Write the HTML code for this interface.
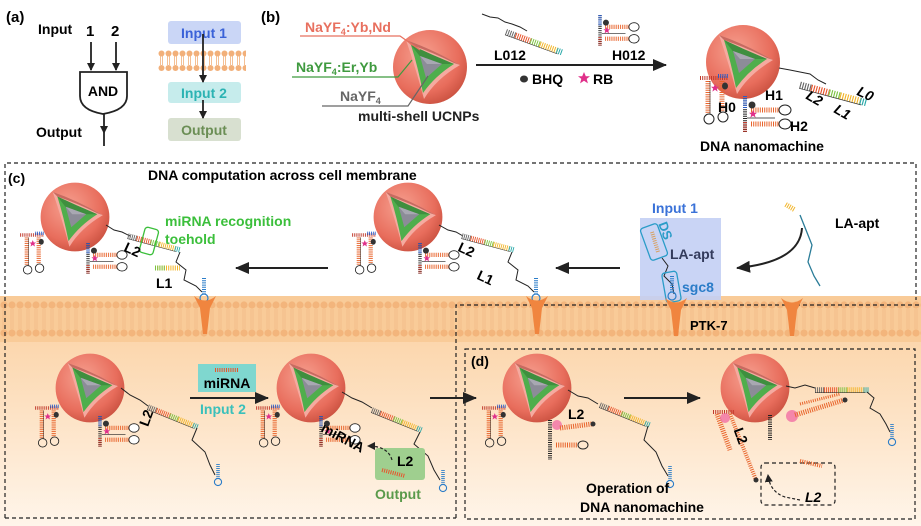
<!DOCTYPE html>
<html><head><meta charset="utf-8"><style>
body{margin:0;background:#fff}
svg{display:block;font-family:"Liberation Sans",sans-serif}
.b{font-weight:bold}
</style></head><body>
<svg width="921" height="526" viewBox="0 0 921 526" xmlns="http://www.w3.org/2000/svg">
<defs>
<radialGradient id="sph" cx="0.4" cy="0.35" r="0.7">
<stop offset="0" stop-color="#f6a090"/><stop offset="0.7" stop-color="#e86d5c"/><stop offset="1" stop-color="#c9503f"/></radialGradient>
<linearGradient id="bg" x1="0" y1="0" x2="0" y2="1">
<stop offset="0" stop-color="#fbcf9e"/><stop offset="1" stop-color="#fff5ea"/></linearGradient>
<pattern id="lip" x="0" y="296" width="8" height="46" patternUnits="userSpaceOnUse">
<rect width="8" height="46" fill="#f9cb98"/>
<circle cx="4" cy="9" r="3.6" fill="#f3b57c"/><circle cx="4" cy="37" r="3.6" fill="#f3b57c"/>
<line x1="3" y1="13" x2="3" y2="33" stroke="#f3bb86" stroke-width="0.8"/><line x1="5" y1="13" x2="5" y2="33" stroke="#f3bb86" stroke-width="0.8"/>
</pattern>
<pattern id="lip2" x="158" y="50" width="7" height="22" patternUnits="userSpaceOnUse">
<circle cx="3.5" cy="3.5" r="3" fill="#f2b07a"/><circle cx="3.5" cy="18" r="3" fill="#f2b07a"/>
<line x1="2.5" y1="6" x2="2.5" y2="15" stroke="#f2b07a" stroke-width="0.8"/><line x1="4.5" y1="6" x2="4.5" y2="15" stroke="#f2b07a" stroke-width="0.8"/>
</pattern>
<g id="np">
<circle r="37" fill="url(#sph)"/>
<path d="M-24,-27 Q2,-18 30,-2 Q6,12 -6,32 Q-14,2 -24,-27Z" fill="#f5aaa0"/>
<path d="M-24,-27 Q2,-18 30,-2 L24,-4 Q2,-15 -19,-22Z" fill="#c86a60"/>
<path d="M-19,-22 Q2,-12 24,-3 Q5,9 -7,26 Q-12,0 -19,-22Z" fill="#4fae4c"/>
<path d="M-19,-22 Q2,-12 24,-3 L-4,-3Z" fill="#3f8f3f"/>
<path d="M-10,-11 L12,-3 L-4,11Z" fill="#8c8c98"/>
<path d="M-10,-11 L12,-3 L-3,-3Z" fill="#a8a8b2"/>
</g>
<g id="lad">
<line x1="0" y1="0" x2="10" y2="0" stroke="#666" stroke-width="6" stroke-dasharray="1 1.2"/>
<line x1="10" y1="0" x2="26" y2="0" stroke="#e8542c" stroke-width="6" stroke-dasharray="1 1.2"/>
<line x1="26" y1="0" x2="36" y2="0" stroke="#7cc242" stroke-width="6" stroke-dasharray="1 1.2"/>
<line x1="36" y1="0" x2="54" y2="0" stroke="#f2b52a" stroke-width="6" stroke-dasharray="1 1.2"/>
<line x1="54" y1="0" x2="60" y2="0" stroke="#2aa9a9" stroke-width="6" stroke-dasharray="1 1.2"/>
<line x1="0" y1="3" x2="56" y2="3" stroke="#333" stroke-width="0.6"/>
</g>
<g id="star"><polygon points="0,-4 1.2,-1.2 4,-1.2 1.8,0.6 2.6,3.6 0,1.8 -2.6,3.6 -1.8,0.6 -4,-1.2 -1.2,-1.2" fill="#e0308a"/></g>
<g id="hpL">
<line x1="0" y1="0" x2="28" y2="0" stroke="#c0392b" stroke-width="4" stroke-dasharray="1 1.2"/>
<line x1="18" y1="-2" x2="28" y2="-2" stroke="#2a5cc8" stroke-width="4" stroke-dasharray="1 1.2"/>
<line x1="8" y1="3" x2="8" y2="36" stroke="#e8642c" stroke-width="5" stroke-dasharray="1 1.2"/>
<line x1="22" y1="3" x2="22" y2="34" stroke="#e8642c" stroke-width="5" stroke-dasharray="1 1.2"/>
<line x1="10" y1="3" x2="10" y2="36" stroke="#222" stroke-width="0.6"/>
<circle cx="9" cy="41" r="5" fill="none" stroke="#222" stroke-width="1"/>
<circle cx="23" cy="39" r="5" fill="none" stroke="#222" stroke-width="1"/>
<ellipse cx="25" cy="8" rx="3" ry="3.5" fill="#333"/>
<use href="#star" x="15" y="10"/>
</g>
<g id="hpB">
<line x1="0" y1="0" x2="0" y2="36" stroke="#222" stroke-width="4" stroke-dasharray="1 1.2"/>
<line x1="0" y1="0" x2="0" y2="12" stroke="#2a5cc8" stroke-width="4" stroke-dasharray="1 1.2"/>
<line x1="0" y1="26" x2="0" y2="36" stroke="#c0392b" stroke-width="4" stroke-dasharray="1 1.2"/>
<line x1="6" y1="14" x2="34" y2="14" stroke="#e8642c" stroke-width="5" stroke-dasharray="1 1.2"/>
<line x1="6" y1="28" x2="34" y2="28" stroke="#e8642c" stroke-width="5" stroke-dasharray="1 1.2"/>
<line x1="2" y1="22" x2="30" y2="22" stroke="#222" stroke-width="0.7"/>
<ellipse cx="40" cy="14" rx="6" ry="5" fill="#fff" stroke="#222"/>
<ellipse cx="40" cy="28" rx="6" ry="5" fill="#fff" stroke="#222"/>
<circle cx="7" cy="9" r="3.5" fill="#333"/>
<use href="#star" x="8" y="18"/>
</g>
<g id="apt">
<line x1="0" y1="0" x2="0" y2="16" stroke="#2a7cc8" stroke-width="4" stroke-dasharray="1 1.2"/>
<circle cx="0" cy="20" r="4" fill="none" stroke="#2a7cc8" stroke-width="1.2"/>
</g>
<g id="rec"><path d="M-11,0 Q0,9 11,0 L5,12 L2,38 L-2,38 L-5,12Z" fill="#f0853f"/></g>
<marker id="ah" markerWidth="8" markerHeight="8" refX="7" refY="4" orient="auto" markerUnits="userSpaceOnUse"><path d="M0,0 L8,4 L0,8Z" fill="#222"/></marker>
<marker id="ahs" markerWidth="14" markerHeight="12" refX="13" refY="6" orient="auto" markerUnits="userSpaceOnUse"><path d="M0,0 L14,6 L0,12Z" fill="#222"/></marker>
</defs>

<rect x="0" y="296" width="921" height="230" fill="url(#bg)"/>
<rect x="0" y="296" width="921" height="46" fill="url(#lip)"/>

<!-- (a) -->
<text x="6" y="22" class="b" font-size="15">(a)</text>
<text x="38" y="34" class="b" font-size="14">Input</text>
<text x="86" y="36" class="b" font-size="15">1</text>
<text x="111" y="36" class="b" font-size="15">2</text>
<line x1="91" y1="42" x2="91" y2="70" stroke="#222" stroke-width="1.8" marker-end="url(#ah)"/>
<line x1="116" y1="42" x2="116" y2="70" stroke="#222" stroke-width="1.8" marker-end="url(#ah)"/>
<path d="M80,72 L127,72 L127,96 Q127,110 103,114 Q80,110 80,96Z" fill="#fff" stroke="#222" stroke-width="1.8"/>
<text x="103" y="96" class="b" font-size="14" text-anchor="middle">AND</text>
<line x1="104" y1="114" x2="104" y2="146" stroke="#222" stroke-width="1.8"/>
<path d="M100,126 L108,126 L104,134Z" fill="#222"/>
<text x="36" y="137" class="b" font-size="14">Output</text>
<rect x="168" y="21" width="73" height="23" rx="3" fill="#cad6f6"/>
<text x="204" y="38" font-size="14" fill="#3a62d8" text-anchor="middle" class="b">Input 1</text>
<rect x="158" y="50" width="88" height="22" fill="url(#lip2)"/>
<rect x="168" y="82" width="73" height="21" rx="3" fill="#c6ecec"/>
<text x="204" y="98" font-size="14" fill="#2bb3b3" text-anchor="middle" class="b">Input 2</text>
<rect x="168" y="118" width="73" height="23" rx="3" fill="#d8e0d0"/>
<text x="204" y="135" font-size="14" fill="#6b8e55" text-anchor="middle" class="b">Output</text>
<line x1="203" y1="34" x2="203" y2="82" stroke="#222" stroke-width="1.8" marker-end="url(#ah)"/>
<line x1="203" y1="100" x2="203" y2="118" stroke="#222" stroke-width="1.8" marker-end="url(#ah)"/>

<!-- (b) -->
<text x="261" y="22" class="b" font-size="15">(b)</text>
<use href="#np" transform="translate(430,67)"/>
<text x="305" y="32" font-size="14" fill="#e8705f" class="b">NaYF<tspan font-size="9" dy="3">4</tspan><tspan dy="-3">:Yb,Nd</tspan></text>
<polyline points="300,36 400,36 420,50" fill="none" stroke="#e8705f" stroke-width="1.2"/>
<text x="296" y="72" font-size="14" fill="#3f9a3f" class="b">NaYF<tspan font-size="9" dy="3">4</tspan><tspan dy="-3">:Er,Yb</tspan></text>
<polyline points="292,77 398,77 412,60" fill="none" stroke="#3f9a3f" stroke-width="1.2"/>
<text x="340" y="101" font-size="14" fill="#666" class="b">NaYF<tspan font-size="9" dy="3">4</tspan></text>
<polyline points="322,106 408,106 428,76" fill="none" stroke="#666" stroke-width="1.2"/>
<text x="358" y="121" font-size="14" fill="#222" class="b">multi-shell UCNPs</text>

<line x1="476" y1="65" x2="666" y2="65" stroke="#222" stroke-width="2" marker-end="url(#ahs)"/>
<polyline points="482,14 490,17 498,18 505,22 512,24 520,27 527,31" fill="none" stroke="#222" stroke-width="1"/>
<use href="#lad" transform="translate(506,32) rotate(20)"/>
<text x="494" y="60" class="b" font-size="14">L012</text>
<use href="#hpB" transform="translate(600,15) scale(0.85)"/>
<text x="612" y="60" class="b" font-size="14">H012</text>
<ellipse cx="524" cy="79" rx="4" ry="3.5" fill="#333"/>
<text x="532" y="84" class="b" font-size="14">BHQ</text>
<use href="#star" transform="translate(584,78) scale(1.5)"/>
<text x="593" y="84" class="b" font-size="14">RB</text>

<use href="#np" transform="translate(743,62)"/>
<polyline points="779,68 790,70 800,72 810,74 818,80 826,84" fill="none" stroke="#222" stroke-width="1"/>
<use href="#lad" transform="translate(800,85) rotate(15) scale(1.15)"/>
<use href="#hpL" transform="translate(700,78)"/>
<use href="#hpB" transform="translate(745,96)"/>
<text x="718" y="112" class="b" font-size="14">H0</text>
<text x="765" y="100" class="b" font-size="14">H1</text>
<text x="790" y="131" class="b" font-size="14">H2</text>
<text x="805" y="102" class="b" font-size="14" font-style="italic" transform="rotate(30 812 100)">L2</text>
<text x="834" y="116" class="b" font-size="14" font-style="italic" transform="rotate(30 841 112)">L1</text>
<text x="857" y="98" class="b" font-size="14" font-style="italic" transform="rotate(25 864 94)">L0</text>
<text x="700" y="151" class="b" font-size="14">DNA nanomachine</text>

<g fill="none" stroke="#222" stroke-width="1.2" stroke-dasharray="4 3">
<polyline points="5,518 5,163 916,163 916,300"/>
<polyline points="456,518 456,305 920,305"/>
<line x1="5" y1="518" x2="456" y2="518"/>
<rect x="465" y="349" width="450" height="170"/>
<rect x="761" y="463" width="74" height="42" rx="4"/>
</g>

<!-- (c) -->
<text x="8" y="183" class="b" font-size="14">(c)</text>
<text x="148" y="180" class="b" font-size="14">DNA computation across cell membrane</text>

<use href="#np" transform="translate(75,217) scale(0.93)"/>
<use href="#hpL" transform="translate(20,235) scale(0.85)"/>
<use href="#hpB" transform="translate(88,243) scale(0.85)"/>
<polyline points="106,225 114,230 122,232 130,236" fill="none" stroke="#222" stroke-width="1"/>
<use href="#lad" transform="translate(128,236) rotate(15) scale(0.9)"/>
<rect x="142" y="228" width="14" height="26" rx="3" fill="none" stroke="#3bbf3b" stroke-width="1.3" transform="rotate(15 149 241)"/>
<polyline points="180,252 176,262 186,270 184,280 196,286 202,292" fill="none" stroke="#222" stroke-width="1"/>
<use href="#apt" transform="translate(204,278)"/>
<use href="#rec" transform="translate(205,296)"/>
<text x="165" y="226" font-size="14" fill="#3bbf3b" class="b">miRNA recognition</text>
<text x="165" y="244" font-size="14" fill="#3bbf3b" class="b">toehold</text>
<text x="124" y="254" class="b" font-size="14" transform="rotate(25 131 250)">L2</text>
<line x1="155" y1="268" x2="180" y2="268" stroke="#f2b52a" stroke-width="5" stroke-dasharray="1 1.2"/>
<line x1="155" y1="268" x2="165" y2="268" stroke="#7cc242" stroke-width="5" stroke-dasharray="1 1.2"/>
<text x="156" y="288" class="b" font-size="14">L1</text>
<line x1="328" y1="268" x2="236" y2="268" stroke="#222" stroke-width="2" marker-end="url(#ahs)"/>

<use href="#np" transform="translate(408,217) scale(0.93)"/>
<use href="#hpL" transform="translate(352,235) scale(0.85)"/>
<use href="#hpB" transform="translate(420,243) scale(0.85)"/>
<polyline points="439,225 448,230 456,232 463,236" fill="none" stroke="#222" stroke-width="1"/>
<use href="#lad" transform="translate(462,236) rotate(15) scale(0.9)"/>
<polyline points="512,252 508,262 518,270 516,280 528,286 534,292" fill="none" stroke="#222" stroke-width="1"/>
<use href="#apt" transform="translate(536,278)"/>
<use href="#rec" transform="translate(537,296)"/>
<text x="458" y="254" class="b" font-size="14" transform="rotate(25 465 250)">L2</text>
<text x="477" y="282" class="b" font-size="14" transform="rotate(25 484 278)">L1</text>
<line x1="620" y1="268" x2="556" y2="268" stroke="#222" stroke-width="2" marker-end="url(#ahs)"/>

<rect x="640" y="218" width="81" height="82" fill="#c3cff4" opacity="0.9"/>
<text x="652" y="213" font-size="14" fill="#3a72d8" class="b">Input 1</text>
<rect x="645" y="225" width="18" height="34" rx="3" fill="none" stroke="#2a9cc8" stroke-width="1.3" transform="rotate(-20 654 242)"/>
<line x1="652" y1="232" x2="658" y2="252" stroke="#d8a060" stroke-width="4" stroke-dasharray="1 1.2"/>
<text x="658" y="232" font-size="13" fill="#2a9cc8" class="b" transform="rotate(70 664 228)">DS</text>
<text x="670" y="259" font-size="14" fill="#333b5c" class="b">LA-apt</text>
<polyline points="662,258 668,266 664,276 672,284 674,294" fill="none" stroke="#222" stroke-width="1"/>
<rect x="664" y="272" width="15" height="30" rx="3" fill="none" stroke="#2a9cc8" stroke-width="1.3" transform="rotate(-10 671 287)"/>
<use href="#apt" transform="translate(672,276)"/>
<text x="682" y="292" font-size="14" fill="#2a7cc8" class="b">sgc8</text>
<use href="#rec" transform="translate(676,298)"/>
<use href="#rec" transform="translate(792,298)"/>
<text x="690" y="330" class="b" font-size="13">PTK-7</text>

<line x1="785" y1="207" x2="795" y2="207" stroke="#f2b52a" stroke-width="5" stroke-dasharray="1 1.2" transform="rotate(30 790 207)"/>
<polyline points="800,215 806,230 812,245 808,262 814,276 820,286" fill="none" stroke="#2a7c98" stroke-width="1.3"/>
<text x="835" y="228" class="b" font-size="14">LA-apt</text>
<path d="M802,228 Q800,262 737,268" fill="none" stroke="#222" stroke-width="2" marker-end="url(#ahs)"/>

<!-- bottom row -->
<use href="#np" transform="translate(90,388) scale(0.93)"/>
<use href="#hpL" transform="translate(35,408) scale(0.85)"/>
<use href="#hpB" transform="translate(100,416) scale(0.85)"/>
<polyline points="121,388 130,395 140,400 148,406" fill="none" stroke="#222" stroke-width="1"/>
<use href="#lad" transform="translate(148,407) rotate(22) scale(0.9)"/>
<polyline points="197,428 192,440 205,452 210,465 215,475" fill="none" stroke="#222" stroke-width="1"/>
<use href="#apt" transform="translate(218,464) scale(0.9)"/>
<text x="138" y="423" class="b" font-size="14" transform="rotate(-70 146 418)">L2</text>

<rect x="198" y="364" width="58" height="28" fill="#7fd7cf"/>
<line x1="215" y1="370" x2="238" y2="370" stroke="#e8542c" stroke-width="4" stroke-dasharray="1 1.2"/>
<text x="227" y="388" text-anchor="middle" class="b" font-size="14">miRNA</text>
<line x1="190" y1="398" x2="268" y2="398" stroke="#222" stroke-width="2" marker-end="url(#ahs)"/>
<text x="200" y="414" font-size="14" fill="#3ac0bb" class="b">Input 2</text>

<use href="#np" transform="translate(311,388) scale(0.93)"/>
<use href="#hpL" transform="translate(256,408) scale(0.85)"/>
<use href="#hpB" transform="translate(321,416) scale(0.85)"/>
<polyline points="342,392 352,398 362,402 372,408" fill="none" stroke="#222" stroke-width="1"/>
<use href="#lad" transform="translate(372,410) rotate(22) scale(0.9)"/>
<polyline points="420,432 414,444 428,456 434,470 440,480" fill="none" stroke="#222" stroke-width="1"/>
<use href="#apt" transform="translate(443,470) scale(0.9)"/>
<text x="320" y="441" class="b" font-size="14" transform="rotate(28 340 436)">miRNA</text>
<rect x="375" y="448" width="50" height="32" rx="3" fill="#9fcf8f"/>
<text x="397" y="466" class="b" font-size="14">L2</text>
<line x1="382" y1="470" x2="405" y2="476" stroke="#e8542c" stroke-width="4" stroke-dasharray="1 1.2"/>
<text x="375" y="499" font-size="14" fill="#5a9a4a" class="b">Output</text>
<path d="M392,460 Q388,446 368,446" fill="none" stroke="#222" stroke-width="1.2" stroke-dasharray="3 2" marker-end="url(#ah)"/>
<line x1="430" y1="398" x2="476" y2="398" stroke="#222" stroke-width="2" marker-end="url(#ahs)"/>

<text x="471" y="366" class="b" font-size="14">(d)</text>
<use href="#np" transform="translate(537,388) scale(0.93)"/>
<use href="#hpL" transform="translate(482,408) scale(0.85)"/>
<line x1="550" y1="420" x2="550" y2="460" stroke="#222" stroke-width="4" stroke-dasharray="1 1.2"/>
<circle cx="557" cy="425" r="5" fill="#f060a0" opacity="0.7"/>
<line x1="560" y1="428" x2="592" y2="424" stroke="#e8642c" stroke-width="5" stroke-dasharray="1 1.2"/>
<circle cx="593" cy="424" r="2.5" fill="#333"/>
<line x1="556" y1="445" x2="578" y2="445" stroke="#e8642c" stroke-width="5" stroke-dasharray="1 1.2"/>
<ellipse cx="583" cy="445" rx="5" ry="4" fill="none" stroke="#222"/>
<text x="568" y="419" class="b" font-size="14">L2</text>
<polyline points="568,390 578,396 588,398 598,404" fill="none" stroke="#222" stroke-width="1"/>
<use href="#lad" transform="translate(600,405) rotate(22) scale(0.9)"/>
<polyline points="648,426 644,440 656,452 662,466 668,476" fill="none" stroke="#222" stroke-width="1"/>
<use href="#apt" transform="translate(670,466) scale(0.9)"/>
<text x="586" y="493" class="b" font-size="14">Operation of</text>
<text x="580" y="512" class="b" font-size="14">DNA nanomachine</text>
<line x1="624" y1="398" x2="700" y2="398" stroke="#222" stroke-width="2" marker-end="url(#ahs)"/>

<use href="#np" transform="translate(755,388) scale(0.93)"/>
<polyline points="786,386 795,388 805,385 815,388" fill="none" stroke="#222" stroke-width="1"/>
<use href="#lad" transform="translate(815,390) scale(0.9)"/>
<polyline points="867,392 874,398 870,408 880,414 886,424 890,432" fill="none" stroke="#222" stroke-width="1"/>
<use href="#apt" transform="translate(892,424) scale(0.9)"/>
<line x1="713" y1="412" x2="735" y2="412" stroke="#c0392b" stroke-width="4" stroke-dasharray="1 1.2"/>
<line x1="717" y1="414" x2="730" y2="450" stroke="#e8642c" stroke-width="5" stroke-dasharray="1 1.2"/>
<line x1="730" y1="414" x2="756" y2="480" stroke="#e8642c" stroke-width="4" stroke-dasharray="1 1.2"/>
<circle cx="756" cy="480" r="2.5" fill="#333"/>
<circle cx="725" cy="418" r="5" fill="#f060a0" opacity="0.7"/>
<text x="732" y="440" class="b" font-size="14" transform="rotate(70 740 436)">L2</text>
<line x1="770" y1="415" x2="770" y2="440" stroke="#222" stroke-width="4" stroke-dasharray="1 1.2"/>
<circle cx="792" cy="416" r="6" fill="#f060a0" opacity="0.7"/>
<line x1="795" y1="415" x2="844" y2="400" stroke="#e8642c" stroke-width="5" stroke-dasharray="1 1.2"/>
<circle cx="845" cy="400" r="2.5" fill="#333"/>
<line x1="800" y1="404" x2="840" y2="394" stroke="#e8642c" stroke-width="3" stroke-dasharray="1 1.2"/>
<line x1="800" y1="461" x2="822" y2="466" stroke="#e8642c" stroke-width="4" stroke-dasharray="1 1.2"/>
<path d="M800,500 L785,497 Q770,492 768,475" fill="none" stroke="#222" stroke-width="1.2" stroke-dasharray="3 2" marker-end="url(#ah)"/>
<text x="805" y="502" class="b" font-size="14" font-style="italic">L2</text>
</svg>
</body></html>
